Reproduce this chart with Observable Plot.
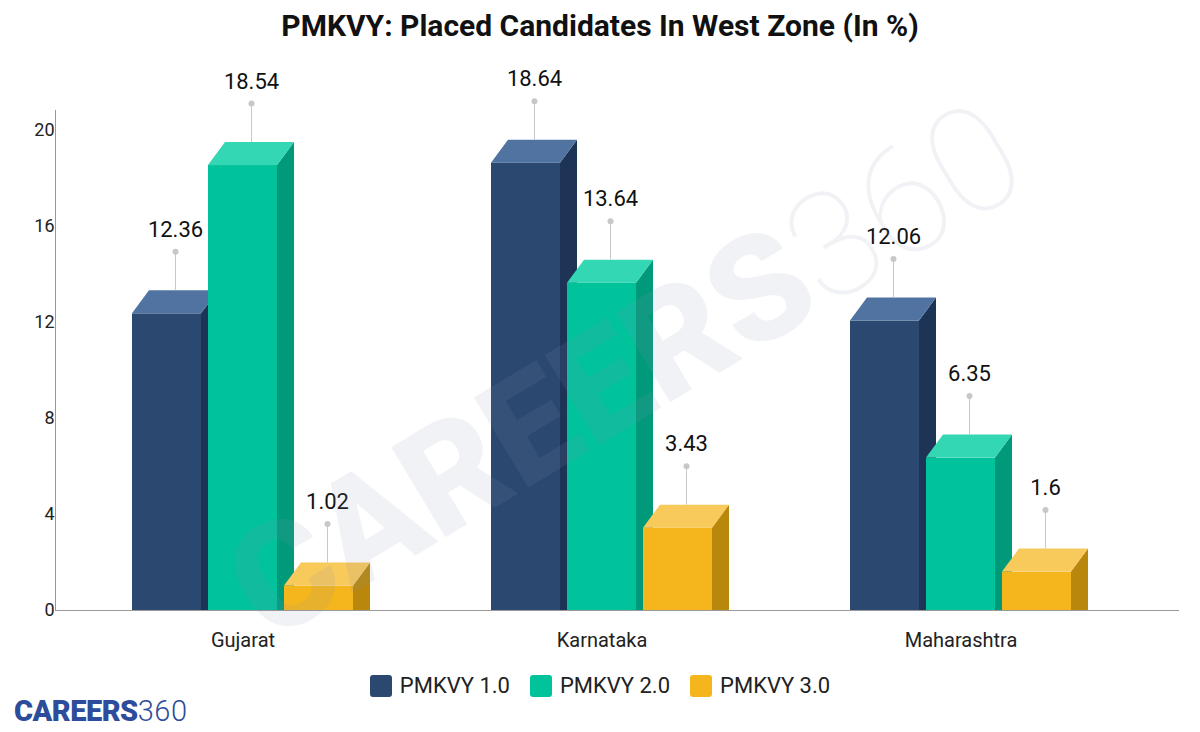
<!DOCTYPE html>
<html><head><meta charset="utf-8">
<script src="https://cdn.jsdelivr.net/npm/d3@7"></script>
<script src="https://cdn.jsdelivr.net/npm/@observablehq/plot@0.6"></script>
<style>
body{margin:0;background:#fff;font-family:Roboto,"Noto Sans",sans-serif;width:1200px;height:732px;overflow:hidden;position:relative}
#title{height:55px;line-height:52px;text-align:center;font-size:30px;font-weight:700;color:#111}
#chart{height:610px}
#legend{position:absolute;top:673px;left:0;width:1200px;display:flex;justify-content:center;gap:20px;font-size:22px;color:#222}
#legend .it{display:flex;align-items:center;gap:8px}
#legend .sw{width:22px;height:22px;border-radius:3px;display:inline-block}
#logo{position:absolute;left:14px;top:693px;font-size:29px;line-height:36px;color:#2d4c9c;letter-spacing:-0.5px}
#logo b{font-weight:900}
#logo span{font-weight:300;letter-spacing:0.5px}
#wm{position:absolute;left:0;top:0;pointer-events:none}
</style></head><body>
<div id="title">PMKVY: Placed Candidates In West Zone (In %)</div>
<div id="chart"></div>
<div id="legend"></div>
<div id="logo"><b>CAREERS</b><span>360</span></div>
<svg id="wm" width="1200" height="732"><g transform="rotate(-31 625 370)"><text x="625" y="370" text-anchor="middle" dominant-baseline="central" font-family="Roboto" font-size="148" fill="#8a93b3" fill-opacity="0.12"><tspan font-weight="900">CAREERS</tspan><tspan font-weight="100">360</tspan></text></g></svg>
<script>
const states = ["Gujarat", "Karnataka", "Maharashtra"];
const series = ["PMKVY 1.0", "PMKVY 2.0", "PMKVY 3.0"];
const pmkvy1 = [12.36, 18.64, 12.06];
const pmkvy2 = [18.54, 13.64, 6.35];
const pmkvy3 = [1.02, 3.43, 1.6];
const yTicks = [0, 4, 8, 12, 16, 20];
const frontColors = ["#2b4870", "#00c29b", "#f4b61c"];
const sideColors = ["#1d3456", "#009a7a", "#b8870c"];
const topColors = ["#5073a1", "#34d7b3", "#f8c95b"];

const rows = states.flatMap((s, i) => [pmkvy1, pmkvy2, pmkvy3].map((vals, j) => ({state: s, series: series[j], value: vals[i]})));

const DX = 17, DY = 23;
const NS = "http://www.w3.org/2000/svg";

function bar3d(index, scales, values, dims, ctx, next) {
  const g = next(index, scales, values, dims, ctx);
  const rects = Array.from(g.querySelectorAll("rect"));
  rects.forEach((r, k) => {
    const i = index[k];
    const j = series.indexOf(rows[i].series);
    const x = +r.getAttribute("x"), y = +r.getAttribute("y"), w = +r.getAttribute("width"), h = +r.getAttribute("height");
    const base = y + h;
    const side = document.createElementNS(NS, "polygon");
    side.setAttribute("points", `${x + w},${y} ${x + w + DX},${y - DY} ${x + w + DX},${base} ${x + w},${base}`);
    side.setAttribute("fill", sideColors[j]);
    const top = document.createElementNS(NS, "polygon");
    top.setAttribute("points", `${x},${y} ${x + DX},${y - DY} ${x + w + DX},${y - DY} ${x + w},${y}`);
    top.setAttribute("fill", topColors[j]);
    r.after(side, top);
  });
  return g;
}

const chart = Plot.plot({
  width: 1200, height: 610,
  marginLeft: 54, marginRight: 20, marginTop: 55, marginBottom: 55,
  style: {fontFamily: "Roboto", background: "transparent", color: "#222", overflow: "visible"},
  fx: {domain: states, paddingInner: 0, paddingOuter: 0.064, align: 0.174, label: null},
  x: {domain: series, paddingInner: 0.098, paddingOuter: 0.902, axis: null},
  y: {domain: [0, 500 / 24], label: null},
  color: {domain: series, range: frontColors},
  marks: [
    Plot.axisY({ticks: yTicks, tickSize: 0, tickPadding: 9, fontSize: 18, label: null, fill: "#222"}),
    Plot.axisFx({anchor: "bottom", tickSize: 0, tickPadding: 22, fontSize: 20, label: null, fill: "#222"}),
    Plot.frame({anchor: "left", facet: "super", stroke: "#999", insetLeft: -8}),
    Plot.frame({anchor: "bottom", facet: "super", stroke: "#999", insetLeft: -8, insetRight: -38}),
    Plot.barY(rows, {fx: "state", x: "series", y: "value", fill: "series", render: bar3d}),
    Plot.ruleX(rows, {fx: "state", x: "series", y1: "value", y2: "value", dx: 8.5, dy: -62, insetBottom: -39, stroke: "#c8c8c8"}),
    Plot.dot(rows, {fx: "state", x: "series", y: "value", dx: 8.5, dy: -62, r: 3, fill: "#c8c8c8"}),
    Plot.text(rows, {fx: "state", x: "series", y: "value", text: d => String(d.value), dx: 8.5, dy: -84, fontSize: 22, fill: "#111"})
  ]
});
document.getElementById("chart").appendChild(chart);

const legend = document.getElementById("legend");
series.forEach((s, j) => {
  const it = document.createElement("div");
  it.className = "it";
  it.innerHTML = `<span class="sw" style="background:${frontColors[j]}"></span><span>${s}</span>`;
  legend.appendChild(it);
});
</script>
</body></html>
